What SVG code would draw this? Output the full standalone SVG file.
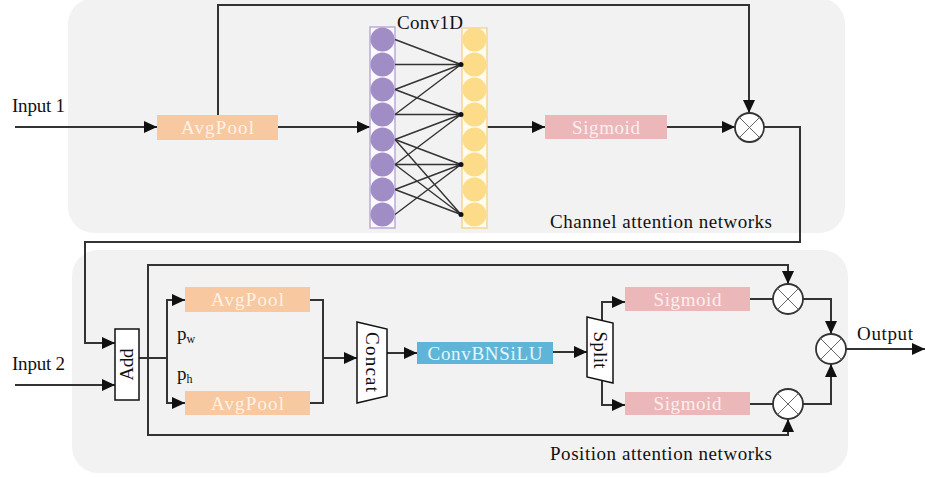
<svg xmlns="http://www.w3.org/2000/svg" width="925" height="478" viewBox="0 0 925 478">
<defs>
<marker id="ah" markerUnits="userSpaceOnUse" markerWidth="14" markerHeight="12" refX="13" refY="6" orient="auto">
<path d="M0,0 L13,6 L0,12 z" fill="#111"/>
</marker>
<style>
.panel{fill:#F2F2F2}
.ln{fill:none;stroke:#333;stroke-width:2}
.cl{fill:none;stroke:#333;stroke-width:1.4}
.arr{marker-end:url(#ah)}
.t{font-family:"Liberation Serif","Times New Roman",serif;font-size:19px;fill:#111}
.bt{font-family:"Liberation Serif","Times New Roman",serif;font-size:19px;text-anchor:middle}
.avg{fill:#F8C8A0}
.sig{fill:#EBB7B9}
.cbs{fill:#5EB5D8}
.mul{fill:#fff;stroke:#333;stroke-width:1.8}
.mx{stroke:#666;stroke-width:1}
.pc{fill:#A08DC6}
.yc{fill:#FCDC88}
.shape{fill:#fff;stroke:#111;stroke-width:1.5}
</style>
</defs>
<rect class="panel" x="68" y="-2" width="777" height="235" rx="26"/>
<rect class="panel" x="72" y="250" width="776" height="223" rx="26"/>

<g id="connectors">
<path class="ln arr" d="M15,127 H157"/>
<path class="ln arr" d="M278,127 H370"/>
<path class="ln arr" d="M218,115 V5 H749 V113"/>
<path class="ln arr" d="M487,127 H545"/>
<path class="ln arr" d="M667,127 H735"/>
<path class="ln arr" d="M764,127 H800 V242 H85 V343 H115"/>
<path class="ln arr" d="M15,385 H115"/>
<path class="ln" d="M139,358 H167"/>
<path class="ln arr" d="M167,358 V300 H185"/>
<path class="ln arr" d="M167,358 V403 H185"/>
<path class="ln arr" d="M148,358 V265 H788 V284"/>
<path class="ln arr" d="M148,358 V435 H788 V419"/>
<path class="ln" d="M310,300 H323 V403 H310"/>
<path class="ln arr" d="M323,358 H357"/>
<path class="ln arr" d="M387,353 H417"/>
<path class="ln arr" d="M553,352 H587"/>
<path class="ln arr" d="M602,320 V302 H625"/>
<path class="ln arr" d="M602,380 V405 H625"/>
<path class="ln" d="M750,299 H773"/>
<path class="ln" d="M750,404 H773"/>
<path class="ln arr" d="M803,299 H831 V334"/>
<path class="ln arr" d="M803,404 H831 V364"/>
<path class="ln arr" d="M846,349 H925"/>
</g>

<g id="conv1d">
<text class="t" x="397" y="29" textLength="66">Conv1D</text>
<rect x="370" y="27" width="25" height="201" fill="#FBF9FE" stroke="#BBAADA" stroke-width="1.5"/>
<circle class="pc" cx="382.5" cy="39.5" r="12"/>
<circle class="pc" cx="382.5" cy="64.5" r="12"/>
<circle class="pc" cx="382.5" cy="89.5" r="12"/>
<circle class="pc" cx="382.5" cy="114.5" r="12"/>
<circle class="pc" cx="382.5" cy="139.5" r="12"/>
<circle class="pc" cx="382.5" cy="164.5" r="12"/>
<circle class="pc" cx="382.5" cy="189.5" r="12"/>
<circle class="pc" cx="382.5" cy="214.5" r="12"/>
<rect x="462" y="28" width="25" height="200" fill="#FFFBEF" stroke="#F3D694" stroke-width="1.5"/>
<circle class="yc" cx="474.5" cy="39.5" r="12"/>
<circle class="yc" cx="474.5" cy="64.5" r="12"/>
<circle class="yc" cx="474.5" cy="89.5" r="12"/>
<circle class="yc" cx="474.5" cy="114.5" r="12"/>
<circle class="yc" cx="474.5" cy="139.5" r="12"/>
<circle class="yc" cx="474.5" cy="164.5" r="12"/>
<circle class="yc" cx="474.5" cy="189.5" r="12"/>
<circle class="yc" cx="474.5" cy="214.5" r="12"/>
<g class="cl">
<path d="M395,39.5 L461,64.5 M395,64.5 L461,64.5 M395,89.5 L461,64.5 M395,114.5 L461,64.5"/>
<path d="M395,89.5 L461,114.5 M395,114.5 L461,114.5 M395,139.5 L461,114.5 M395,164.5 L461,114.5"/>
<path d="M395,139.5 L461,164.5 M395,164.5 L461,164.5 M395,189.5 L461,164.5 M395,214.5 L461,164.5"/>
<path d="M395,139.5 L461,214.5 M395,164.5 L461,214.5 M395,189.5 L461,214.5"/>
</g>
<circle cx="461" cy="64.5" r="2.5" fill="#111"/>
<circle cx="461" cy="114.5" r="2.5" fill="#111"/>
<circle cx="461" cy="164.5" r="2.5" fill="#111"/>
<circle cx="461" cy="214.5" r="2.5" fill="#111"/>
</g>

<g id="input1"><text class="t" x="12" y="112" textLength="53">Input 1</text></g>
<g id="input2"><text class="t" x="12" y="370" textLength="53">Input 2</text></g>

<g id="avgpool1">
<rect class="avg" x="157" y="115" width="121" height="25"/>
<text class="bt" x="217.5" y="134" fill="#FDF2E8" textLength="73">AvgPool</text>
</g>
<g id="sigmoid1">
<rect class="sig" x="545" y="115" width="122" height="24"/>
<text class="bt" x="606" y="134" fill="#FBEFEF" textLength="68">Sigmoid</text>
</g>
<g id="mul1">
<circle class="mul" cx="749.5" cy="127.5" r="14.5"/>
<path class="mx" d="M739.2,117.2 L759.8,137.8 M759.8,117.2 L739.2,137.8"/>
</g>
<g id="label-channel"><text class="t" x="550" y="228" textLength="222">Channel attention networks</text></g>

<g id="add">
<rect class="shape" x="115" y="329" width="24" height="71"/>
<text class="bt" transform="translate(133,364.5) rotate(-90)" x="0" y="0" fill="#111" textLength="32">Add</text>
</g>
<g id="pw"><text class="t" x="177" y="340">p<tspan font-size="12" dy="3">w</tspan></text></g>
<g id="ph"><text class="t" x="177" y="380">p<tspan font-size="12" dy="3">h</tspan></text></g>
<g id="avgpool2">
<rect class="avg" x="185" y="287" width="125" height="25"/>
<text class="bt" x="247.5" y="306" fill="#FDF2E8" textLength="73">AvgPool</text>
</g>
<g id="avgpool3">
<rect class="avg" x="185" y="391" width="125" height="24"/>
<text class="bt" x="247.5" y="410" fill="#FDF2E8" textLength="73">AvgPool</text>
</g>
<g id="concat">
<polygon class="shape" points="357,322 387,329 387,396 357,403"/>
<text class="bt" transform="translate(366,362) rotate(90)" x="0" y="0" fill="#111" textLength="60">Concat</text>
</g>
<g id="convbnsilu">
<rect class="cbs" x="417" y="342" width="136" height="22"/>
<text class="bt" x="485" y="360" fill="#E6F5FB" textLength="115">ConvBNSiLU</text>
</g>
<g id="split">
<polygon class="shape" points="587,317 613,323 613,383 587,377"/>
<text class="bt" transform="translate(594,350) rotate(90)" x="0" y="0" fill="#111" textLength="37">Split</text>
</g>
<g id="sigmoid2">
<rect class="sig" x="625" y="287" width="125" height="24"/>
<text class="bt" x="687.5" y="306" fill="#FBEFEF" textLength="68">Sigmoid</text>
</g>
<g id="sigmoid3">
<rect class="sig" x="625" y="392" width="125" height="23"/>
<text class="bt" x="687.5" y="410" fill="#FBEFEF" textLength="68">Sigmoid</text>
</g>
<g id="mul2">
<circle class="mul" cx="788" cy="299" r="15"/>
<path class="mx" d="M777.4,288.4 L798.6,309.6 M798.6,288.4 L777.4,309.6"/>
</g>
<g id="mul3">
<circle class="mul" cx="788" cy="404" r="15"/>
<path class="mx" d="M777.4,393.4 L798.6,414.6 M798.6,393.4 L777.4,414.6"/>
</g>
<g id="mul4">
<circle class="mul" cx="831" cy="349" r="15"/>
<path class="mx" d="M820.4,338.4 L841.6,359.6 M841.6,338.4 L820.4,359.6"/>
</g>
<g id="output"><text class="t" x="857" y="340" textLength="56">Output</text></g>
<g id="label-position"><text class="t" x="550" y="460" textLength="222">Position attention networks</text></g>
</svg>
